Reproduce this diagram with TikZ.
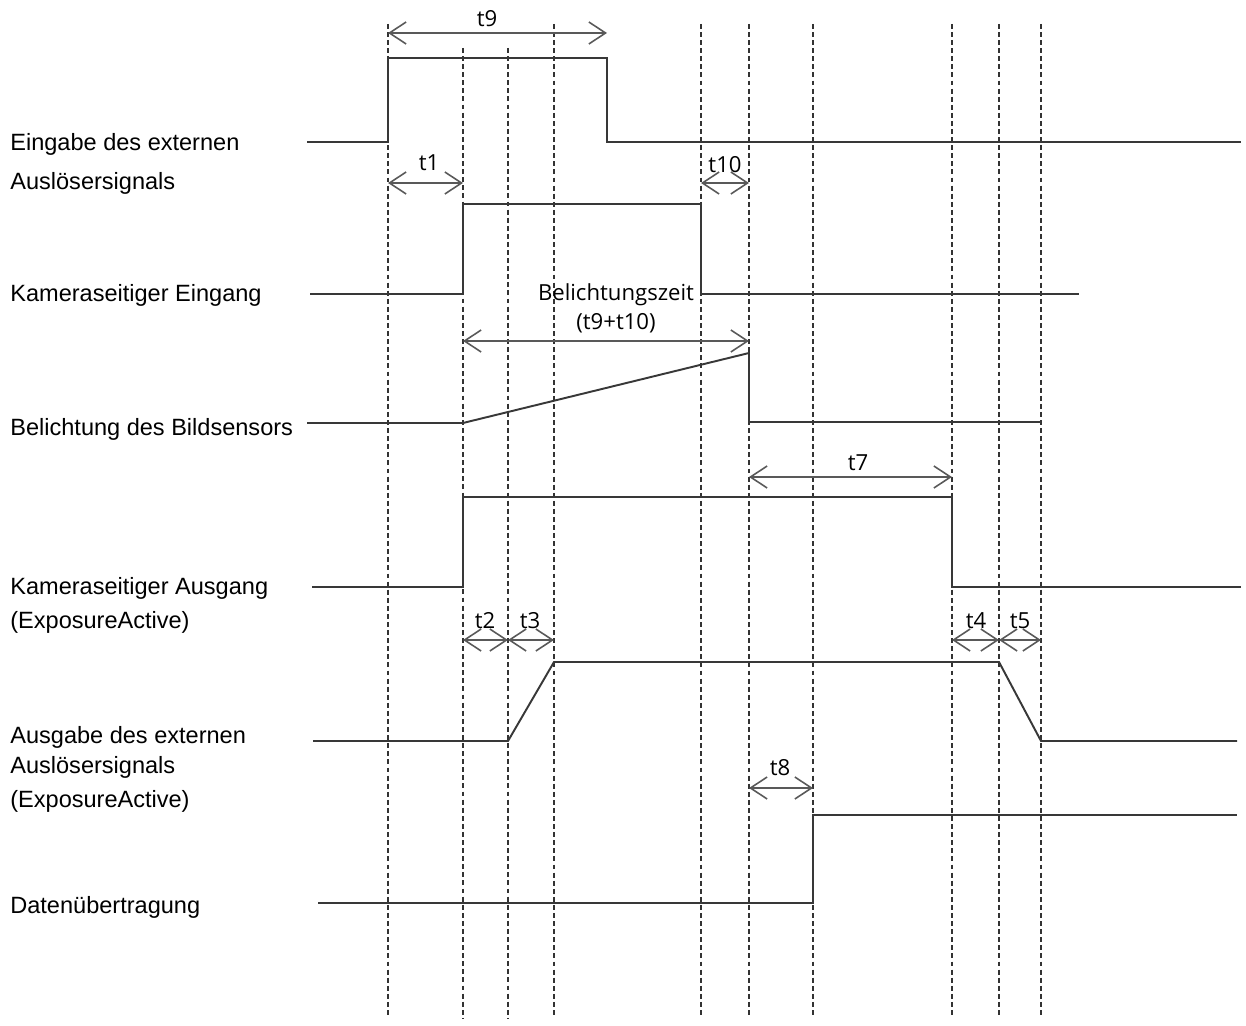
\documentclass[tikz,border=0pt]{standalone}
\usepackage{fontspec}
\setmainfont{Liberation Sans}
\newfontfamily\timefont{Open Sans}
\usepackage{tikz}
\usetikzlibrary{positioning, arrows.meta}

\tikzset{
  signal/.style={draw=black!78, line width=1.1pt, line join=miter},
  guide/.style={draw=black!80, line width=0.7pt, dash pattern=on 2.8pt off 1.8pt},
  span/.style={draw=black!65, line width=0.9pt, <->},
  lbl/.style={anchor=base west, inner sep=0pt, font=\fontsize{13.4}{16}\selectfont},
  tlbl/.style={anchor=base, inner sep=0pt, font=\timefont\fontsize{12.6}{15}\selectfont},
}

\begin{document}
\begin{tikzpicture}[x=0.02cm, y=-0.02cm, >={Straight Barb[length=9.5pt,width=12.5pt]}]
        \useasboundingbox (0,0) rectangle (1246,1026);

        % Time marks
        \foreach \n/\x/\t in {tA/388/24, tB/463/48, tC/508/48, tD/554/24, tE/701/24,
                              tF/749/24, tG/813/24, tH/952/24, tI/999/24, tJ/1041/24} {
            \draw[guide] (\x,\t) -- (\x,1018);
            \coordinate (\n) at (\x,0);
        }
        \coordinate (fall) at (607,0);

        % Signal names
        \node (eingabe)  [lbl] at (10,151) {Eingabe des externen};
        \node (eingabe2) [lbl] at (10,190) {Auslösersignals};
        \node (eingang)  [lbl] at (10,302) {Kameraseitiger Eingang};
        \node (sensor)   [lbl] at (10,436) {Belichtung des Bildsensors};
        \node (ausgang)  [lbl] at (10,594) {Kameraseitiger Ausgang};
        \node (ausgang2) [lbl] at (10,628) {(ExposureActive)};
        \node (ausgabe)  [lbl] at (10,743) {Ausgabe des externen};
        \node (ausgabe2) [lbl] at (10,773) {Auslösersignals};
        \node (ausgabe3) [lbl] at (10,807) {(ExposureActive)};
        \node (daten)    [lbl] at (10,913) {Datenübertragung};

        % Signals
        \draw[signal] (307,142) -- (388,142) -- (388,58) -- (607,58) -- (607,142) -- (1241,142);
        \draw[signal] (310,294) -- (463,294) -- (463,204) -- (701,204) -- (701,294) -- (1079,294);
        \draw[signal] (307,423) -- (463,423) -- (749,353) -- (749,422) -- (1041,422);
        \draw[signal] (312,587) -- (463,587) -- (463,497) -- (952,497) -- (952,587) -- (1241,587);
        \draw[signal] (313,741) -- (508,741) -- (554,662) -- (999,662) -- (1041,741) -- (1237,741);
        \draw[signal] (318,903) -- (813,903) -- (813,815) -- (1237,815);

        % Arrows
        \draw[span] (tA |- 0,33) -- (fall |- 0,33);
        \draw[span] (tA |- 0,183) -- (tB |- 0,183);
        \draw[span] (tE |- 0,183) -- (tF |- 0,183);
        \draw[span] (tB |- 0,341) -- (tF |- 0,341);
        \draw[span] (tF |- 0,477) -- (tH |- 0,477);
        \draw[span] (tB |- 0,640) -- (tC |- 0,640);
        \draw[span] (tC |- 0,640) -- (tD |- 0,640);
        \draw[span] (tH |- 0,640) -- (tI |- 0,640);
        \draw[span] (tI |- 0,640) -- (tJ |- 0,640);
        \draw[span] (tF |- 0,788) -- (tG |- 0,788);

        % Times
        \node (l9)  [tlbl] at (487,27)  {t9};
        \node (l1)  [tlbl] at (429,171) {t1};
        \node (l10) [tlbl] at (725,173) {t10};
        \node (lb)  [tlbl] at (616,301) {Belichtungszeit};
        \node (lb2) [tlbl] at (616,330) {(t9+t10)};
        \node (l7)  [tlbl] at (858,471) {t7};
        \node (l2)  [tlbl] at (485,628) {t2};
        \node (l3)  [tlbl] at (530,628) {t3};
        \node (l4)  [tlbl] at (976,628) {t4};
        \node (l5)  [tlbl] at (1020,628) {t5};
        \node (l8)  [tlbl] at (780,775) {t8};

    \end{tikzpicture}
\end{document}
